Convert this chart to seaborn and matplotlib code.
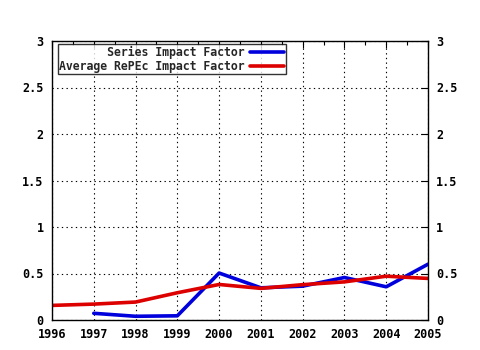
import numpy as np
import pandas as pd
import seaborn as sns
import matplotlib.pyplot as plt
from matplotlib.ticker import MultipleLocator

years = [1996, 1997, 1998, 1999, 2000, 2001, 2002, 2003, 2004, 2005]
series_if = [np.nan, 0.072, 0.04, 0.045, 0.505, 0.346, 0.364, 0.457, 0.357, 0.60]
average_if = [0.157, 0.171, 0.193, 0.293, 0.382, 0.34, 0.38, 0.41, 0.471, 0.447]
labels = ["Series Impact Factor", "Average RePEc Impact Factor"]

df = pd.DataFrame({"year": years, labels[0]: series_if, labels[1]: average_if})
df = df.melt(id_vars="year", var_name="series", value_name="value").dropna()

sns.set_style("white")
plt.rcParams["font.family"] = ["DejaVu Sans Mono"]
plt.rcParams["font.weight"] = "bold"

fig = plt.figure(figsize=(4.8, 3.5), dpi=100)
ax = fig.add_axes([52 / 480, 30 / 350, 376 / 480, 279 / 350])

sns.lineplot(data=df, x="year", y="value", hue="series", ax=ax,
             palette={labels[0]: "#0000dd", labels[1]: "#dd0000"},
             linewidth=2.6, legend=True)

ax.set_xlim(1996, 2005)
ax.set_ylim(0, 3)
ax.set_xticks(years)
ax.set_xticklabels([str(y) for y in years])
ax.set_yticks([0, 0.5, 1, 1.5, 2, 2.5, 3])
ax.set_yticklabels(["0", "0.5", "1", "1.5", "2", "2.5", "3"])
ax.xaxis.set_minor_locator(MultipleLocator(0.5))
ax.set_xlabel("")
ax.set_ylabel("")
ax.grid(True, which="major", color="black", linestyle=(0, (1.2, 3)), linewidth=0.8)
for s in ax.spines.values():
    s.set_color("black")
    s.set_linewidth(1)
ax.tick_params(axis="both", which="both", direction="in", top=True, right=True,
               labelsize=8.5, colors="black", length=5, width=0.8, pad=6)
ax.tick_params(axis="x", which="minor", length=3)
ax.tick_params(axis="y", labelright=True)
for t in ax.get_xticklabels() + ax.get_yticklabels():
    t.set_fontweight("bold")

# right-align legend labels by padding (monospace font)
handles, hlabels = ax.get_legend_handles_labels()
width = max(len(l) for l in hlabels)
padded = [l.rjust(width) for l in hlabels]
leg = ax.legend(handles, padded, loc="upper left", bbox_to_anchor=(0.015, 0.99),
                markerfirst=False, frameon=True, fancybox=False, fontsize=8.3,
                handlelength=3.0, borderpad=0.15, labelspacing=0.1,
                handletextpad=0.4, borderaxespad=0.0)
leg.get_frame().set_edgecolor("black")
leg.get_frame().set_linewidth(1)
for t in leg.get_texts():
    t.set_fontweight("bold")

fig.savefig("out.png", dpi=100)
